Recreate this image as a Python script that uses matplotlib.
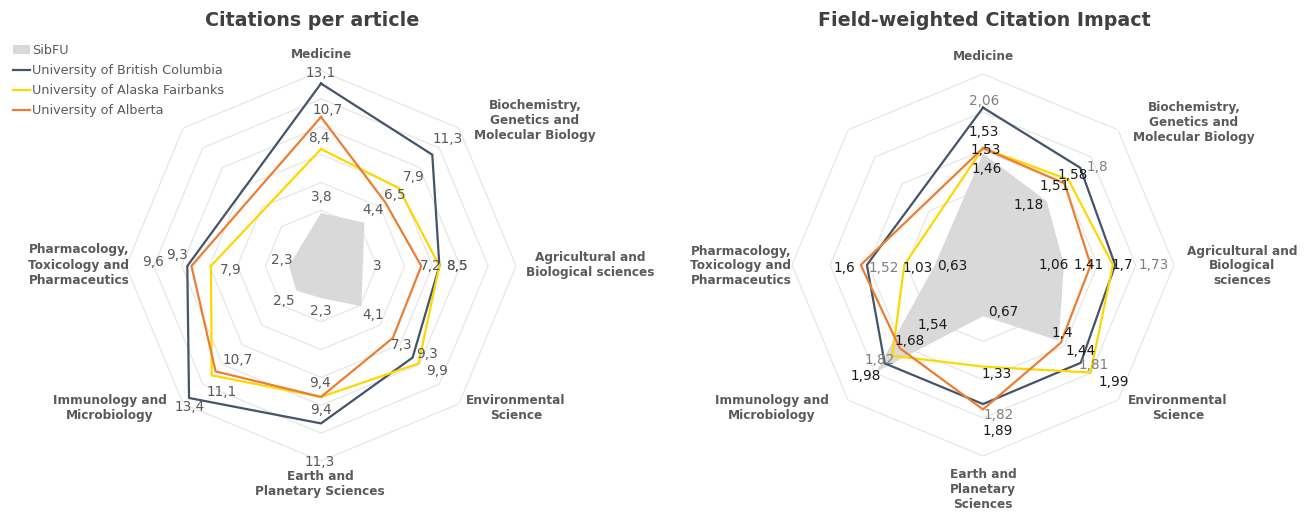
import numpy as np
import matplotlib
matplotlib.use('Agg')
import matplotlib.pyplot as plt
from matplotlib.patches import Patch
from matplotlib.lines import Line2D

# categories, clockwise from the top (the 8th slot at upper-left is empty)
cats_cpa = ['Medicine', 'Biochemistry,\nGenetics and\nMolecular Biology',
            'Agricultural and\nBiological sciences', 'Environmental\nScience',
            'Earth and\nPlanetary Sciences', 'Immunology and\nMicrobiology',
            'Pharmacology,\nToxicology and\nPharmaceutics']
cats_fwci = ['Medicine', 'Biochemistry,\nGenetics and\nMolecular Biology',
             'Agricultural and\nBiological\nsciences', 'Environmental\nScience',
             'Earth and\nPlanetary\nSciences', 'Immunology and\nMicrobiology',
             'Pharmacology,\nToxicology and\nPharmaceutics']

series_names = ['SibFU', 'University of British Columbia',
                'University of Alaska Fairbanks', 'University of Alberta']

# Citations per article
cpa_sibfu = [3.8, 4.4, 3, 4.1, 2.3, 2.5, 2.3]
cpa_ubc = [13.1, 11.3, 8.5, 9.3, 11.3, 13.4, 9.6]
cpa_uaf = [8.4, 7.9, 8.5, 9.9, 9.4, 11.1, 7.9]
cpa_ua = [10.7, 6.5, 7.2, 7.3, 9.4, 10.7, 9.3]

# Field-weighted Citation Impact
fwci_sibfu = [1.46, 1.18, 1.06, 1.4, 0.67, 1.98, 0.63]
fwci_ubc = [2.06, 1.8, 1.73, 1.81, 1.82, 1.82, 1.52]
fwci_uaf = [1.53, 1.58, 1.7, 1.99, 1.33, 1.68, 1.03]
fwci_ua = [1.53, 1.51, 1.41, 1.44, 1.89, 1.54, 1.6]

# label offsets in pixels (dx right, dy down) per point
off_cpa = {
    'sib': [(1, -16), (9, -13), (14, 0), (12, 9), (0, 13), (-13, 10), (-7, -6)],
    'ubc': [(0, -11), (15, -16), (18, 0), (14, -4), (-1, 39), (1, 9), (-34, -4)],
    'uaf': [(-2, -11), (15, -11), (18, 0), (19, 7), (0, 13), (10, 17), (20, 4)],
    'ua': [(7, -7), (10, -7), (9, 0), (9, 7), (-1, -14), (22, -11), (-14, -11)],
}
off_fwci = {
    'sib': [(4, 16), (-18, 4), (-10, 0), (4, -8), (20, -4), (-10, 4), (17, 1)],
    'ubc': [(1, -7), (17, -1), (39, 0), (13, 2), (16, 11), (-5, -3), (17, 3)],
    'uaf': [(1, -16), (4, -5), (9, 0), (23, 9), (14, 7), (17, -15), (13, 3)],
    'ua': [(3, 2), (-10, 3), (-2, 0), (20, 8), (15, 22), (33, -23), (-16, 3)],
}

C_SIB = '#d9d9d9'
C_UBC = '#44546a'
C_UAF = '#ffd700'
C_UA = '#ed7d31'
W, H = 1315, 515

theta = np.deg2rad(np.arange(7) * 45.0)
theta_closed = np.append(theta, 2 * np.pi)
ring_theta = np.deg2rad(np.arange(9) * 45.0)


def fmt(v):
    return f'{v:g}'.replace('.', ',')


def radar(ax, rmax, step, data, offs, lab_colors):
    ax.set_theta_zero_location('N')
    ax.set_theta_direction(-1)
    ax.set_ylim(0, rmax)
    ax.grid(False)
    ax.set_xticks([])
    ax.set_yticks([])
    ax.spines['polar'].set_visible(False)
    ax.patch.set_alpha(0)
    for v in np.arange(step, rmax + step / 2, step):
        ax.plot(ring_theta, [v] * 9, color='#e4e4e4', lw=0.8, zorder=1)
    sib, ubc, uaf, ua = data
    ax.fill(theta_closed, sib + sib[:1], color=C_SIB, lw=0, zorder=2)
    for vals, c in [(ubc, C_UBC), (uaf, C_UAF), (ua, C_UA)]:
        ax.plot(theta_closed, vals + vals[:1], color=c, lw=1.6, zorder=3)
    for key, vals in zip(['sib', 'ubc', 'uaf', 'ua'], data):
        for t, v, (dx, dy) in zip(theta, vals, offs[key]):
            ax.annotate(fmt(v), xy=(t, v), xytext=(dx, -dy),
                        textcoords='offset pixels', ha='center', va='center',
                        fontsize=9.8, color=lab_colors[key], zorder=5,
                        annotation_clip=False)


def cat_labels(labels, pos):
    for lab, (x, y) in zip(labels, pos):
        fig.text(x / W, 1 - y / H, lab, ha='center', va='center', fontsize=8.7,
                 fontweight='bold', color='#5a5a5a', linespacing=1.2)


fig = plt.figure(figsize=(13.15, 5.15), dpi=100)

ax1 = fig.add_axes([(321 - 195) / W, (H - 266 - 195) / H, 390 / W, 390 / H],
                   projection='polar')
radar(ax1, 14, 2, [cpa_sibfu, cpa_ubc, cpa_uaf, cpa_ua], off_cpa,
      {'sib': '#595959', 'ubc': '#595959', 'uaf': '#595959', 'ua': '#595959'})

ax2 = fig.add_axes([(983 - 191) / W, (H - 265 - 191) / H, 382 / W, 382 / H],
                   projection='polar')
radar(ax2, 2.5, 0.5, [fwci_sibfu, fwci_ubc, fwci_uaf, fwci_ua], off_fwci,
      {'sib': '#1a1a1a', 'ubc': '#7f7f7f', 'uaf': '#1a1a1a', 'ua': '#1a1a1a'})

fig.text(312.5 / W, 1 - 20 / H, 'Citations per article', ha='center', va='center',
         fontsize=13.7, fontweight='bold', color='#404040')
fig.text(984 / W, 1 - 20 / H, 'Field-weighted Citation Impact', ha='center',
         va='center', fontsize=13.7, fontweight='bold', color='#404040')

cat_labels(cats_cpa, [(321, 54), (535, 121), (590, 265), (516, 408),
                      (320, 484), (110, 408), (79, 265)])
cat_labels(cats_fwci, [(983, 56), (1194, 122), (1242, 266), (1178, 408),
                       (983, 490), (772, 408), (741, 266)])

handles = [Patch(facecolor=C_SIB, edgecolor='none'),
           Line2D([], [], color=C_UBC, lw=1.6),
           Line2D([], [], color=C_UAF, lw=1.6),
           Line2D([], [], color=C_UA, lw=1.6)]
fig.legend(handles, series_names, loc='upper left',
           bbox_to_anchor=(13 / W, 1 - 44 / H), frameon=False, fontsize=9.2,
           labelcolor='#595959', handlelength=1.35, handletextpad=0.15,
           labelspacing=0.56, borderpad=0, borderaxespad=0)

fig.savefig('out.png', dpi=100, facecolor='white')
